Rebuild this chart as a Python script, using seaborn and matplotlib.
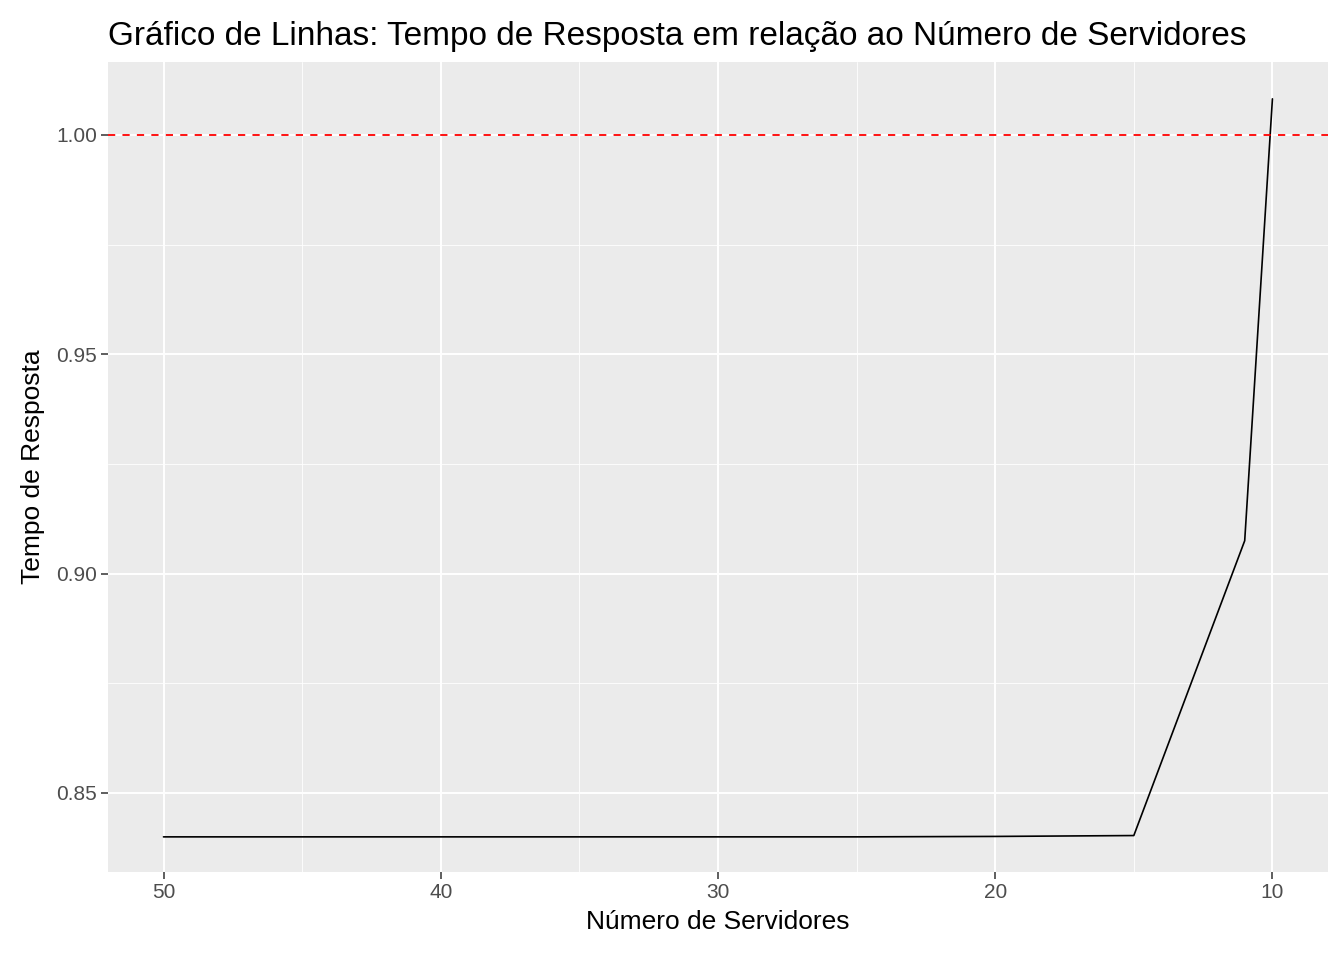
import numpy as np
import pandas as pd
import seaborn as sns
import matplotlib.pyplot as plt

# dados
servidores = [50, 45, 40, 35, 30, 25, 20, 15, 11, 10]
tempo = [0.8400, 0.8400, 0.8400, 0.8400, 0.8400, 0.8400, 0.8401, 0.8403, 0.9075, 1.0082]
x_ticks = [50, 40, 30, 20, 10]
y_ticks = [0.85, 0.90, 0.95, 1.00]

df = pd.DataFrame({"Servidores": servidores, "Tempo": tempo})

sns.set_theme(style="darkgrid", rc={"axes.facecolor": "#EBEBEB", "grid.color": "white"})
plt.rcParams['font.family'] = ['Arial', 'Liberation Sans', 'DejaVu Sans']

fig = plt.figure(figsize=(13.44, 9.6), dpi=100)
ax = fig.add_axes([0.0804, 0.0917, 0.9076, 0.8437])

sns.lineplot(data=df, x="Servidores", y="Tempo", color="black", linewidth=1.2, ax=ax)
ax.axhline(1.0, color="red", linestyle=(0, (4, 4)), linewidth=1.3)

ax.set_xlim(52, 8)
ax.set_ylim(0.832, 1.0166)
ax.set_xticks(x_ticks)
ax.set_yticks(y_ticks)
ax.set_yticklabels([f"{v:.2f}" for v in y_ticks])
ax.set_xticks([45, 35, 25, 15], minor=True)
ax.set_yticks([0.875, 0.925, 0.975], minor=True)
ax.grid(which="major", color="white", linewidth=1.4)
ax.grid(which="minor", color="white", linewidth=0.6)
ax.tick_params(axis="both", which="major", labelsize=15, colors="#333333", labelcolor="#4D4D4D",
               length=5, width=1.1, direction="out", bottom=True, left=True, pad=3)
ax.tick_params(axis="both", which="minor", length=0)
for s in ax.spines.values():
    s.set_visible(False)

ax.set_xlabel("Número de Servidores", fontsize=19, color="black", labelpad=6)
ax.set_ylabel("Tempo de Resposta", fontsize=19, color="black", labelpad=8)
ax.set_title("Gráfico de Linhas: Tempo de Resposta em relação ao Número de Servidores",
             fontsize=24, loc="left", color="black", pad=12)

fig.savefig("out.png", dpi=100)
